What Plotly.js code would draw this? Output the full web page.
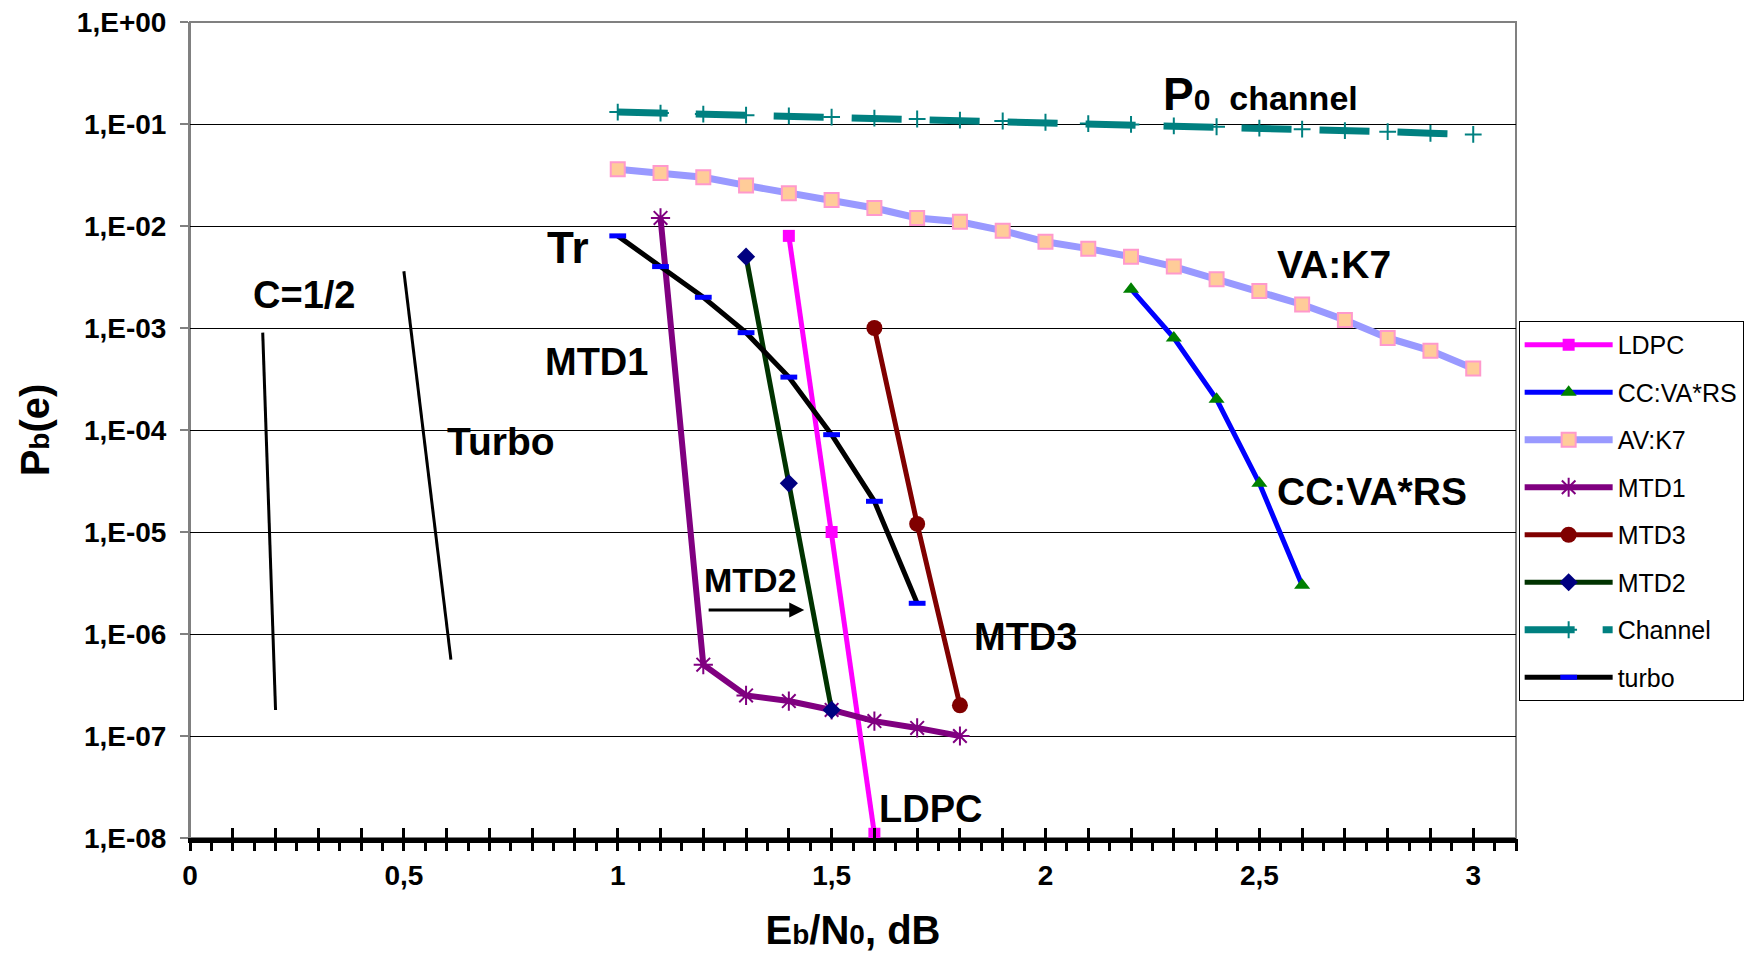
<!DOCTYPE html>
<html><head><meta charset="utf-8">
<script src="https://cdn.plot.ly/plotly-3.0.1.min.js"></script>
<style>html,body{margin:0;padding:0;background:#fff}#chart{width:1756px;height:954px}</style>
</head><body><div id="chart"></div>
<script>
// Eb/N0 grid (dB) for the channel and AV:K7 curves
const ebn0Grid = [1.0,1.1,1.2,1.3,1.4,1.5,1.6,1.7,1.8,1.9,2.0,2.1,2.2,2.3,2.4,2.5,2.6,2.7,2.8,2.9,3.0];
const channelP0 = [0.131,0.128,0.125,0.122,0.120,0.117,0.114,0.112,0.109,0.107,0.104,0.101,0.099,0.096,0.094,0.091,0.089,0.086,0.084,0.081,0.079];
const avK7 = [0.036,0.033,0.030,0.025,0.021,0.018,0.015,0.012,0.011,0.009,0.007,0.006,0.005,0.004,0.003,0.0023,0.0017,0.0012,0.0008,0.0006,0.0004];

const ldpcX = [1.4,1.5,1.6];
const ldpcY = [0.008,1e-5,1.1e-8];

const ccX = [2.2,2.3,2.4,2.5,2.6];
const ccY = [0.0024,0.0008,0.0002,3e-5,3e-6];

const mtd1X = [1.1,1.2,1.3,1.4,1.5,1.6,1.7,1.8];
const mtd1Y = [0.012,5e-7,2.5e-7,2.2e-7,1.8e-7,1.4e-7,1.2e-7,1e-7];

const mtd3X = [1.6,1.7,1.8];
const mtd3Y = [0.001,1.2e-5,2e-7];

const mtd2X = [1.3,1.4,1.5];
const mtd2Y = [0.005,3e-5,1.8e-7];

const turboX = [1.0,1.1,1.2,1.3,1.4,1.5,1.6,1.7];
const turboY = [0.008,0.004,0.002,0.0009,0.00033,9e-5,2e-5,2e-6];

// Limit lines (C=1/2 and Turbo)
const limitHalfX = [0.17,0.2];
const limitHalfY = [9e-4,1.8e-7];
const limitTurboX = [0.5,0.61];
const limitTurboY = [3.6e-3,5.6e-7];

// Tick labels
const xTickVals = [0,0.5,1,1.5,2,2.5,3];
const xTickText = ['0','0,5','1','1,5','2','2,5','3'];
const yTickVals = [1,1e-1,1e-2,1e-3,1e-4,1e-5,1e-6,1e-7,1e-8];
const yTickText = ['1,E+00','1,E-01','1,E-02','1,E-03','1,E-04','1,E-05','1,E-06','1,E-07','1,E-08'];

const traces = [
  {name:'LDPC', x:ldpcX, y:ldpcY, mode:'lines+markers', legendgroup:'g1', cliponaxis:false,
   line:{color:'#FF00FF', width:5}, marker:{symbol:'square', size:12, color:'#FF00FF'}},
  {name:'CC:VA*RS', x:ccX, y:ccY, mode:'lines+markers', legendgroup:'g2',
   line:{color:'#0000FF', width:5}, marker:{symbol:'triangle-up', size:14, color:'#008000'}},
  {name:'AV:K7', x:ebn0Grid, y:avK7, mode:'lines+markers', legendgroup:'g3',
   line:{color:'#9999FF', width:7}, marker:{symbol:'square', size:14, color:'#FFCC99', line:{color:'#FF99CC', width:2}}},
  {name:'MTD1', x:mtd1X, y:mtd1Y, mode:'lines+markers', legendgroup:'g4',
   line:{color:'#800080', width:6}, marker:{symbol:'asterisk-open', size:16, color:'#800080', line:{color:'#800080', width:2}}},
  {name:'MTD3', x:mtd3X, y:mtd3Y, mode:'lines+markers', legendgroup:'g5',
   line:{color:'#800000', width:5}, marker:{symbol:'circle', size:16, color:'#800000'}},
  {name:'MTD2', x:mtd2X, y:mtd2Y, mode:'lines+markers', legendgroup:'g6',
   line:{color:'#003300', width:5}, marker:{symbol:'diamond', size:14, color:'#000080'}},
  {name:'Channel', x:ebn0Grid, y:channelP0, mode:'lines+markers', legendgroup:'g7',
   line:{color:'#008080', width:7, dash:'50px,28px'}, marker:{symbol:'cross-thin-open', size:12, color:'#008080', line:{color:'#008080', width:2}}},
  {name:'turbo', x:turboX, y:turboY, mode:'lines+markers', legendgroup:'g8',
   line:{color:'#000000', width:5}, marker:{symbol:'line-ew', size:12, color:'#0000FF', line:{color:'#0000FF', width:5}}},
  {x:limitHalfX, y:limitHalfY, mode:'lines', showlegend:false, hoverinfo:'skip', line:{color:'#000', width:3}},
  {x:limitTurboX, y:limitTurboY, mode:'lines', showlegend:false, hoverinfo:'skip', line:{color:'#000', width:3}},
  {x:[], y:[], xaxis:'x2', showlegend:false, hoverinfo:'skip'},
  {x:[], y:[], xaxis:'x3', showlegend:false, hoverinfo:'skip'}
];

function lbl(text, x, y, size){
  return {text:text, x:x, y:y, xref:'x', yref:'y', xanchor:'left', yanchor:'middle', showarrow:false,
          font:{size:size||38, weight:'bold', color:'#000'}};
}

const annotations = [
  lbl('Tr', 0.829, -2.206, 44),
  lbl('C=1/2', 0.143, -2.68, 38),
  lbl('MTD1', 0.825, -3.333, 38),
  lbl('Turbo', 0.595, -4.108, 39),
  lbl('MTD2', 1.196, -5.47, 34),
  lbl('MTD3', 1.828, -6.03, 38),
  lbl('LDPC', 1.605, -7.716, 38),
  lbl('VA:K7', 2.537, -2.373, 39),
  lbl('CC:VA*RS', 2.537, -4.598, 39),
  lbl('<span style="font-size:46px">P</span><span style="font-size:30px">0</span>\u00a0\u00a0channel', 2.27, -0.71, 34),
  {x:1.436, y:-5.765, ax:1.209, ay:-5.765, xref:'x', yref:'y', axref:'x', ayref:'y', text:'', showarrow:true,
   arrowhead:2, arrowsize:1, arrowwidth:3, arrowcolor:'#000'}
];

const layout = {
  width:1756, height:954,
  margin:{l:190, r:238, t:22, b:116},
  paper_bgcolor:'#fff', plot_bgcolor:'#fff',
  font:{family:'Arial, "Liberation Sans", sans-serif', color:'#000'},
  showlegend:true,
  legend:{x:1.002, xanchor:'left', y:0.6336, yanchor:'top', bgcolor:'#fff', bordercolor:'#000', borderwidth:1,
          font:{size:25, color:'#000'}, itemwidth:88, tracegroupgap:12, traceorder:'grouped'},
  xaxis:{range:[0,3.1], tickmode:'array', tickvals:xTickVals, ticktext:xTickText, ticks:'',
         showline:true, linecolor:'#000', linewidth:5, showgrid:false, zeroline:false,
         tickfont:{size:28, weight:'bold'}, ticklabelstandoff:8, automargin:false,
         minor:{tickmode:'linear', tick0:0, dtick:0.05, ticks:'outside', ticklen:8, tickwidth:3, tickcolor:'#000', showgrid:false},
         title:{text:'E<span style="font-size:28px">b</span>/N<span style="font-size:28px">0</span>, dB', font:{size:40, weight:'bold'}, standoff:28}},
  xaxis2:{overlaying:'x', anchor:'y', side:'bottom', range:[0,3.1], tickmode:'linear', tick0:0, dtick:0.1,
          ticks:'outside', ticklen:10, tickwidth:3, tickcolor:'#000', showticklabels:false, showgrid:false, zeroline:false, showline:false},
  xaxis3:{overlaying:'x', anchor:'y', side:'bottom', range:[0,3.1], tickmode:'linear', tick0:0, dtick:0.1,
          ticks:'inside', ticklen:10, tickwidth:3, tickcolor:'#000', showticklabels:false, showgrid:false, zeroline:false, showline:false},
  yaxis:{type:'log', range:[-8,0], tickmode:'array', tickvals:yTickVals, ticktext:yTickText,
         ticks:'outside', ticklen:8, tickwidth:2, tickcolor:'#808080', showline:true, linecolor:'#808080', linewidth:2,
         showgrid:true, gridcolor:'#000', gridwidth:1, zeroline:false, automargin:false,
         tickfont:{size:28, weight:'bold'}, ticklabelstandoff:8,
         title:{text:'P<span style="font-size:28px">b</span>(e)', font:{size:40, weight:'bold'}, standoff:15}},
  shapes:[{type:'rect', xref:'paper', yref:'paper', x0:0, y0:0, x1:1, y1:1, layer:'between', line:{color:'#808080', width:2}}],
  annotations:annotations
};

Plotly.newPlot('chart', traces, layout, {displayModeBar:false, staticPlot:true});
</script>
</body></html>
